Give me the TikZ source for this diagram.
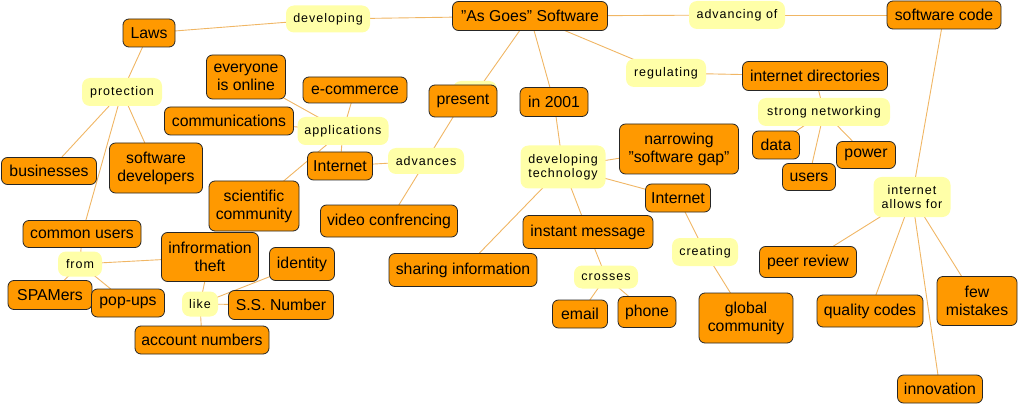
\documentclass[tikz,border=0pt]{standalone}
\usepackage{fontspec}
\setmainfont{Liberation Sans}
\newfontfamily\linkfont[LetterSpace=8]{Liberation Sans}
\usetikzlibrary{backgrounds}
\definecolor{conceptfill}{RGB}{255,153,0}
\definecolor{linkerfill}{RGB}{255,255,168}
\definecolor{wirecolor}{RGB}{240,182,100}
\tikzstyle{concept} = [rectangle, rounded corners=6pt, draw=black!85, line width=0.8pt, fill=conceptfill, inner sep=1pt, align=center, font=\fontsize{15.8}{18}\selectfont]
\tikzstyle{linker} = [rectangle, rounded corners=8pt, fill=linkerfill, inner sep=1pt, align=center, font=\linkfont\fontsize{12.5}{14}\selectfont]
\tikzstyle{wire} = [draw=wirecolor, line width=0.9pt]
\newcommand{\cpt}[5]{\node [concept, minimum width=#3, minimum height=#4] (#1) at #2 {#5};}
\newcommand{\lnk}[5]{\node [linker, minimum width=#3, minimum height=#4] (#1) at #2 {#5};}
\newcommand{\qt}{\symbol{34}}

\begin{document}
\begin{tikzpicture}[x=1pt, y=-1pt]
	\useasboundingbox (0,0) rectangle (1019,406);
	% top row
	\cpt{laws}{(149,33)}{52}{28}{Laws}
	\lnk{developing}{(328,19)}{84}{27}{developing}
	\cpt{asgoes}{(530,16)}{155}{29}{\qt As Goes\qt{} Software}
	\lnk{advancing}{(737,15)}{96}{28}{advancing of}
	\cpt{swcode}{(944,15)}{114}{28}{software code}
	% left branch
	\lnk{protection}{(122,92)}{80}{28}{protection}
	\cpt{business}{(49,171)}{95}{27}{businesses}
	\cpt{swdev}{(156,168)}{93}{50}{software\\developers}
	\cpt{common}{(82,234)}{118}{27}{common users}
	\lnk{from}{(80,264)}{44}{25}{from}
	\cpt{spam}{(50,295)}{84}{29}{SPAMers}
	\cpt{popups}{(128,303)}{73}{28}{pop-ups}
	\cpt{theft}{(210,257)}{97}{49}{infrormation\\theft}
	\cpt{identity}{(302,264)}{65}{33}{identity}
	\lnk{like}{(200,304)}{36}{25}{like}
	\cpt{ssn}{(281,305)}{105}{29}{S.S. Number}
	\cpt{account}{(202,340)}{134}{28}{account numbers}
	% applications
	\cpt{everyone}{(246,77)}{79}{44}{everyone\\is online}
	\cpt{ecommerce}{(355,90)}{104}{26}{e-commerce}
	\cpt{comms}{(229,121)}{129}{28}{communications}
	\lnk{applications}{(343,131)}{91}{28}{applications}
	\cpt{netleft}{(340,166)}{65}{28}{Internet}
	\cpt{science}{(254,206)}{90}{50}{scientific\\community}
	\lnk{advances}{(426,161)}{76}{26}{advances}
	\cpt{video}{(389,221)}{137}{32}{video confrencing}
	\lnk{hidden}{(475,94)}{44}{26}{}
	\cpt{present}{(463,101)}{68}{32}{present}
	% middle branch
	\cpt{in2001}{(554,102)}{68}{29}{in 2001}
	\lnk{devtech}{(563,167)}{85}{43}{developing\\technology}
	\cpt{narrowing}{(679,149)}{119}{50}{narrowing\\\qt software gap\qt}
	\cpt{netright}{(678,198)}{65}{28}{Internet}
	\cpt{instant}{(588,232)}{130}{33}{instant message}
	\cpt{sharing}{(463,270)}{148}{33}{sharing information}
	\lnk{crosses}{(606,277)}{64}{23}{crosses}
	\cpt{email}{(580,314)}{55}{28}{email}
	\cpt{phone}{(647,312)}{58}{31}{phone}
	\lnk{creating}{(705,252)}{66}{28}{creating}
	\cpt{global}{(746,318)}{94}{50}{global\\community}
	% right branch
	\lnk{regulating}{(666,73)}{80}{28}{regulating}
	\cpt{indir}{(815,76)}{145}{29}{internet directories}
	\lnk{strong}{(824,112)}{132}{28}{strong networking}
	\cpt{data}{(776,145)}{47}{28}{data}
	\cpt{power}{(866,155)}{59}{27}{power}
	\cpt{users}{(809,177)}{53}{27}{users}
	\lnk{allows}{(912,197)}{77}{40}{internet\\allows for}
	\cpt{peer}{(808,262)}{97}{31}{peer review}
	\cpt{quality}{(870,311)}{106}{32}{quality codes}
	\cpt{few}{(977,301)}{80}{49}{few\\mistakes}
	\cpt{innov}{(940,389)}{85}{28}{innovation}
	\begin{scope}[on background layer]
		\foreach \a/\b in {laws/developing, developing/asgoes, asgoes/advancing, advancing/swcode,
			asgoes/regulating, regulating/indir, asgoes/hidden, hidden/present, asgoes/in2001, in2001/devtech,
			laws/protection, protection/business, protection/swdev, protection/common,
			common/from, from/spam, from/popups, from/theft, theft/like, like/identity, like/ssn, like/account,
			present/advances, advances/netleft, advances/video,
			applications/everyone, applications/ecommerce, applications/comms, applications/netleft, applications/science,
			devtech/narrowing, devtech/netright, devtech/instant, devtech/sharing,
			netright/creating, creating/global, instant/crosses, crosses/email, crosses/phone,
			indir/strong, strong/data, strong/users, strong/power,
			swcode/allows, allows/peer, allows/quality, allows/innov, allows/few}
			\draw [wire] (\a.center) -- (\b.center);
	\end{scope}
\end{tikzpicture}
\end{document}
